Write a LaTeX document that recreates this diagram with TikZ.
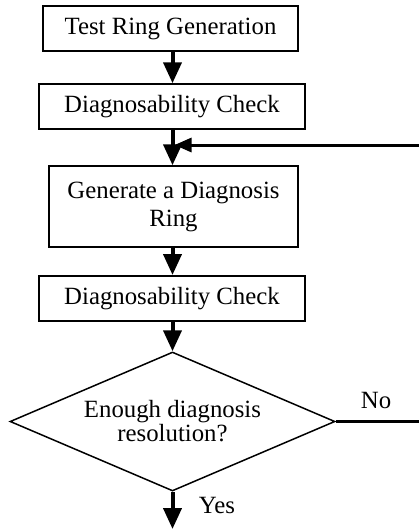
\documentclass[tikz,border=0pt]{standalone}
\usepackage{fontspec}
\setmainfont{Liberation Serif}
\usetikzlibrary{arrows.meta,shapes.geometric}
\begin{document}
\begin{tikzpicture}[x=1pt,y=1pt,
  box/.style={draw,line width=2pt,inner sep=0pt,align=center,
    font=\fontsize{24.8}{28}\selectfont},
  dec/.style={draw,diamond,line width=1.5pt,inner sep=0pt,aspect=2.34,
    minimum width=325pt,minimum height=139pt,align=center,
    font=\fontsize{24.8}{24}\selectfont},
  lbl/.style={inner sep=0pt,font=\fontsize{24.8}{28}\selectfont},
  arr/.style={line width=4pt,-{Triangle[length=21pt,width=18pt]}},
  farr/.style={line width=3pt,-{Triangle[length=17pt,width=14pt]}}]
\useasboundingbox (0,0) rectangle (419,-531);
\clip (0,0) rectangle (419,-531);
\node[box,minimum width=255pt,minimum height=45pt] (b1) at (170.5,-28.5) {Test Ring Generation};
\node[box,minimum width=266pt,minimum height=44.5pt] (b2) at (172,-106.5) {Diagnosability Check};
\node[box,minimum width=249pt,minimum height=80.5pt] (b3) at (173.5,-206.5) {Generate a Diagnosis\\Ring};
\node[box,minimum width=266pt,minimum height=45pt] (b4) at (172,-298.5) {Diagnosability Check};
\node[dec] (d) at (172.5,-421.5) {Enough diagnosis\\resolution?};
\node[lbl] (no) at (376,-400) {No};
\node[lbl] (yes) at (217,-505) {Yes};
\coordinate (c1) at (172.5,0);
\coordinate (j) at (174.5,-145);
\coordinate (r1) at (440,-421.5);
\coordinate (r2) at (440,-145);
\coordinate (yend) at (172.5,-529);
\draw[arr] (b1.south -| c1) -- (b2.north -| c1);
\draw[arr] (b2.south -| c1) -- (b3.north -| c1);
\draw[arr] (b3.south -| c1) -- (b4.north -| c1);
\draw[arr] (b4.south -| c1) -- (d.north);
\draw[arr] (d.south) -- (yend);
\draw[farr] (d.east) -- (r1) -- (r2) -- (j);
\end{tikzpicture}
\end{document}
